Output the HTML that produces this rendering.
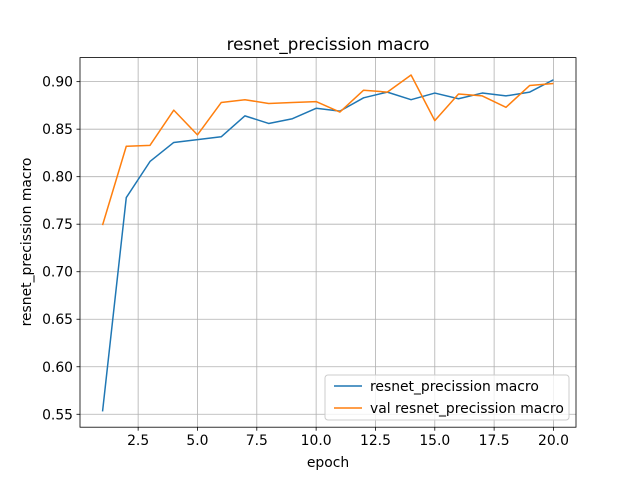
<!DOCTYPE html>
<html><head><meta charset="utf-8"><style>
body{margin:0;background:#fff}
svg{font-family:"DejaVu Sans","Liberation Sans",sans-serif}
</style></head><body>
<svg id="chart" width="640" height="480" xmlns="http://www.w3.org/2000/svg">
<rect width="640" height="480" fill="#fff"/>
<text x="328" y="50" font-size="16.7" text-anchor="middle">resnet_precission macro</text>
<g id="grid"></g>
<g id="ticks"></g>
<g id="series"></g>
<rect x="80" y="57.6" width="496" height="369.6" fill="none" stroke="#000" stroke-width="0.8"/>
<text x="328" y="467" font-size="13.9" text-anchor="middle">epoch</text>
<text transform="translate(31,242) rotate(-90)" font-size="13.9" text-anchor="middle">resnet_precission macro</text>
<g>
<rect x="325" y="375" width="244" height="45" rx="3" fill="#fff" fill-opacity="0.8" stroke="#ccc"/>
<line x1="334" y1="386" x2="362" y2="386" stroke="#1f77b4" stroke-width="1.5"/>
<text x="370" y="391" font-size="13.9">resnet_precission macro</text>
<line x1="334" y1="408" x2="362" y2="408" stroke="#ff7f0e" stroke-width="1.5"/>
<text x="370" y="413" font-size="13.9">val resnet_precission macro</text>
</g>
</svg>
<script>
const epochs=[1,2,3,4,5,6,7,8,9,10,11,12,13,14,15,16,17,18,19,20];
const trainValues=[0.553,0.778,0.816,0.836,0.839,0.842,0.864,0.856,0.861,0.872,0.869,0.883,0.889,0.881,0.888,0.882,0.888,0.885,0.889,0.902];
const valValues=[0.749,0.832,0.833,0.870,0.844,0.878,0.881,0.877,0.878,0.879,0.868,0.891,0.889,0.907,0.859,0.887,0.885,0.873,0.896,0.898];
const xTicks=[2.5,5.0,7.5,10.0,12.5,15.0,17.5,20.0];
const yTicks=[0.55,0.60,0.65,0.70,0.75,0.80,0.85,0.90];
const L=80,R=576,T=57.6,B=427.2;
const xmin=0.05,xmax=20.95,ymin=0.5364,ymax=0.9253;
function xs(v){return L+(v-xmin)/(xmax-xmin)*(R-L);}
function ys(v){return B-(v-ymin)/(ymax-ymin)*(B-T);}
const NS="http://www.w3.org/2000/svg";
const grid=document.getElementById('grid'),ticks=document.getElementById('ticks'),ser=document.getElementById('series');
function mk(tag,attrs,parent){const e=document.createElementNS(NS,tag);for(const k in attrs)e.setAttribute(k,attrs[k]);parent.appendChild(e);return e;}
xTicks.forEach(v=>{const x=xs(v);
 const g=mk('line',{x1:x,x2:x,y1:T,y2:B,stroke:'#b0b0b0','stroke-width':0.8},grid);
 
 
 mk('line',{x1:x,x2:x,y1:B,y2:B+3.5,stroke:'#000','stroke-width':0.8},ticks);
 const t=mk('text',{x:x,y:B+18,'font-size':13.9,'text-anchor':'middle'},ticks);t.textContent=v.toFixed(1);
 
 });
yTicks.forEach(v=>{const y=ys(v);
 const g=mk('line',{x1:L,x2:R,y1:y,y2:y,stroke:'#b0b0b0','stroke-width':0.8},grid);
 
 
 mk('line',{x1:L-3.5,x2:L,y1:y,y2:y,stroke:'#000','stroke-width':0.8},ticks);
 const t=mk('text',{x:L-7,y:y+5,'font-size':13.9,'text-anchor':'end'},ticks);t.textContent=v.toFixed(2);
 
 });
function line(vals,color,name){const p=mk('polyline',{points:vals.map((v,i)=>xs(epochs[i])+','+ys(v)).join(' '),fill:'none',stroke:color,'stroke-width':1.5,'stroke-linejoin':'round'},ser);
 
 }
line(trainValues,'#1f77b4','train-line');
line(valValues,'#ff7f0e','val-line');
</script>
</body></html>
